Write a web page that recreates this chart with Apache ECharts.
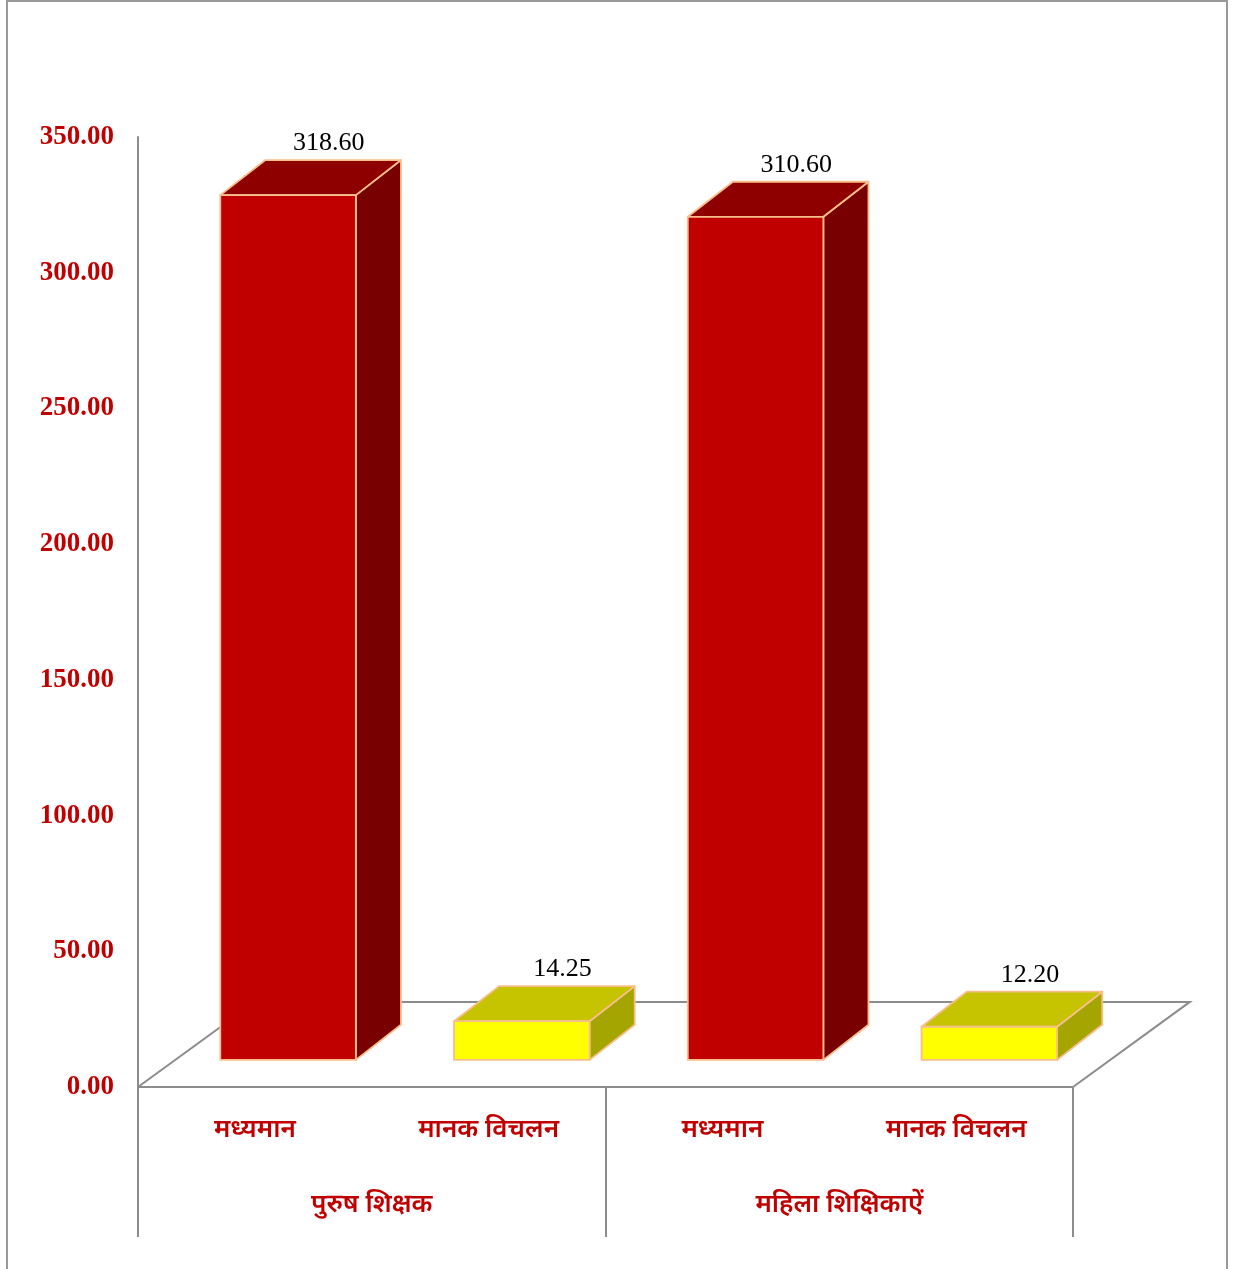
<!DOCTYPE html>
<html>
<head>
<meta charset="utf-8">
<script src="https://cdn.jsdelivr.net/npm/echarts@6/dist/echarts.min.js"></script>
<style>
  html, body { margin: 0; padding: 0; background: #ffffff; }
  #chart { width: 1235px; height: 1269px; }
</style>
</head>
<body>
<div id="chart"></div>
<script>
// Mean and standard deviation of scores for male and female teachers
const categories = ['मध्यमान', 'मानक विचलन', 'मध्यमान', 'मानक विचलन'];
const groups = ['पुरुष शिक्षक', 'महिला शिक्षिकाऐं'];
const values = [318.60, 14.25, 310.60, 12.20];
const yTicks = { min: 0, max: 350, interval: 50 };

const RED = { front: '#C00000', top: '#8E0000', side: '#780000' };
const YELLOW = { front: '#FFFF00', top: '#C6C300', side: '#A5A500' };
const EDGE = '#F8BE8C';
const AXIS_GREY = '#8C8C8C';
const DEVA = '"Noto Sans Devanagari", "Lohit Devanagari", "Mangal", "Noto Sans", sans-serif';
const SERIF = '"Liberation Serif", "Times New Roman", serif';

const chart = echarts.init(document.getElementById('chart'), null, { renderer: 'canvas' });

// 3D box: front face, top face and right side face
function renderBox(params, api) {
  const i = api.value(0);
  const v = api.value(1);
  const base = api.coord([i, 0]);
  const top = api.coord([i, v]);
  const slot = api.size([1, 0])[0];
  const w = slot * 0.58;
  const sx = slot * 0.142, sy = -slot * 0.116;   // bar sits inside the floor depth
  const dx = slot * 0.193, dy = -slot * 0.15;    // bar depth
  const x0 = base[0] - w / 2 + sx, x1 = x0 + w;
  const yb = base[1] + sy, yt = top[1] + sy;
  const c = i % 2 === 0 ? RED : YELLOW;
  const st = (fill) => ({ fill: fill, stroke: EDGE, lineWidth: 1.8, lineJoin: 'round' });
  return {
    type: 'group',
    children: [
      { type: 'polygon', shape: { points: [[x1, yb], [x1 + dx, yb + dy], [x1 + dx, yt + dy], [x1, yt]] }, style: st(c.side) },
      { type: 'polygon', shape: { points: [[x0, yt], [x1, yt], [x1 + dx, yt + dy], [x0 + dx, yt + dy]] }, style: st(c.top) },
      { type: 'rect', shape: { x: x0, y: yt, width: w, height: yb - yt }, style: st(c.front) },
      {
        type: 'text',
        style: {
          text: v.toFixed(2), x: (x0 + x1) / 2 + dx * 0.9, y: yt + dy - 17,
          align: 'center', verticalAlign: 'middle',
          font: 'normal 26px ' + SERIF, fill: '#000000'
        }
      }
    ]
  };
}

// Floor parallelogram behind the bars
function renderFloor(params, api) {
  const base = api.coord([0, 0]);
  const slot = api.size([1, 0])[0];
  const left = base[0] - slot / 2;
  const right = left + slot * categories.length;
  const y = base[1];
  const fx = slot * 0.5, fy = -slot * 0.364;
  const ls = { stroke: AXIS_GREY, lineWidth: 2, fill: null };
  return {
    type: 'group',
    children: [
      { type: 'polyline', shape: { points: [[left, y], [left + fx, y + fy], [right + fx, y + fy], [right, y]] }, style: ls }
    ]
  };
}

chart.setOption({
  animation: false,
  backgroundColor: '#ffffff',
  graphic: [
    { type: 'rect', shape: { x: 7, y: 1, width: 1220, height: 1290 }, style: { fill: null, stroke: '#9A9A9A', lineWidth: 2 }, z: -10 }
  ],
  grid: { left: 138, right: 162, top: 137, bottom: 182, containLabel: false },
  xAxis: [
    {
      type: 'category', data: categories, position: 'bottom',
      axisLine: { show: true, lineStyle: { color: AXIS_GREY, width: 2 } },
      axisTick: { show: false },
      axisLabel: { color: '#C00000', fontSize: 26, fontFamily: DEVA, fontWeight: 600, margin: 32 }
    },
    {
      type: 'category', data: groups, position: 'bottom', offset: 0,
      axisLine: { show: false },
      axisTick: { show: true, length: 150, lineStyle: { color: AXIS_GREY, width: 2 } },
      axisLabel: { color: '#C00000', fontSize: 26, fontFamily: DEVA, fontWeight: 600, margin: 107 }
    }
  ],
  yAxis: {
    type: 'value', min: yTicks.min, max: yTicks.max, interval: yTicks.interval,
    axisLine: { show: true, lineStyle: { color: AXIS_GREY, width: 2 } },
    axisTick: { show: false },
    splitLine: { show: false },
    axisLabel: {
      color: '#C00000', fontSize: 27, fontFamily: SERIF, fontWeight: 'bold', margin: 24,
      formatter: (v) => v.toFixed(2)
    }
  },
  series: [
    { type: 'custom', name: 'floor', xAxisIndex: 0, data: [[0, 0]], renderItem: renderFloor, silent: true, z: 1 },
    { type: 'custom', name: 'bars', xAxisIndex: 0, data: values.map((v, i) => [i, v]), renderItem: renderBox, z: 2 }
  ]
});
</script>
</body>
</html>
